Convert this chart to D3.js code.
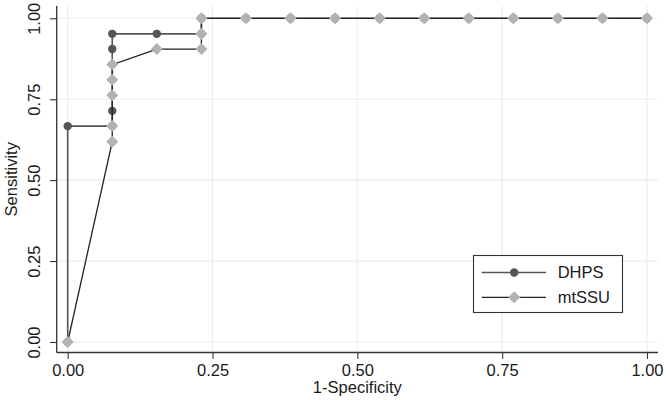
<!DOCTYPE html>
<html>
<head>
<meta charset="utf-8">
<script src="https://cdn.jsdelivr.net/npm/d3@7"></script>
<style>
  html, body { margin: 0; padding: 0; background: #fff; }
  svg { display: block; font-family: "Liberation Sans", Arial, sans-serif; }
</style>
</head>
<body>
<svg id="chart" width="666" height="400"></svg>
<script>
// ---- Data ----
const seriesNames = ["DHPS", "mtSSU"];
const dhpsFpr = [0, 0, 0.0769, 0.0769, 0.0769, 0.0769, 0.1538, 0.2308, 0.2308, 0.3077, 0.3846, 0.4615, 0.5385, 0.6154, 0.6923, 0.7692, 0.8462, 0.9231, 1.0];
const dhpsTpr = [0, 0.667, 0.667, 0.714, 0.905, 0.952, 0.952, 0.952, 1.0, 1.0, 1.0, 1.0, 1.0, 1.0, 1.0, 1.0, 1.0, 1.0, 1.0];
const mtssuFpr = [0, 0.0769, 0.0769, 0.0769, 0.0769, 0.0769, 0.1538, 0.2308, 0.2308, 0.2308, 0.3077, 0.3846, 0.4615, 0.5385, 0.6154, 0.6923, 0.7692, 0.8462, 0.9231, 1.0];
const mtssuTpr = [0, 0.619, 0.667, 0.762, 0.810, 0.857, 0.905, 0.905, 0.952, 1.0, 1.0, 1.0, 1.0, 1.0, 1.0, 1.0, 1.0, 1.0, 1.0, 1.0];
const xTicks = [0, 0.25, 0.5, 0.75, 1.0];
const yTicks = [0, 0.25, 0.5, 0.75, 1.0];
const xTitle = "1-Specificity";
const yTitle = "Sensitivity";

// ---- Layout ----
const svg = d3.select("#chart");
const panel = { left: 56.7, right: 658, top: 6, bottom: 352.5 };
const x = d3.scaleLinear().domain([0, 1]).range([67.7, 647]);
const y = d3.scaleLinear().domain([0, 1]).range([342, 18.3]);
const fontSize = 16.5;
const textColor = "#1a1a1a";
const axisColor = "#333";
const gridColor = "#ebebeb";

// Grid
const g = svg.append("g");
g.selectAll("line.gx").data(xTicks).enter().append("line")
  .attr("x1", d => x(d)).attr("x2", d => x(d))
  .attr("y1", panel.top).attr("y2", panel.bottom)
  .attr("stroke", gridColor).attr("stroke-width", 1.1);
g.selectAll("line.gy").data(yTicks).enter().append("line")
  .attr("y1", d => y(d)).attr("y2", d => y(d))
  .attr("x1", panel.left).attr("x2", panel.right)
  .attr("stroke", gridColor).attr("stroke-width", 1.1);

// Axes
const xAxis = d3.axisBottom(x).tickValues(xTicks).tickFormat(d3.format(".2f")).tickSize(6.5).tickPadding(4);
const xg = svg.append("g").attr("transform", `translate(0,${panel.bottom})`).call(xAxis);
xg.select(".domain").attr("d", `M${panel.left},0H${panel.right}`).attr("stroke", axisColor).attr("stroke-width", 1.3);
xg.selectAll(".tick line").attr("stroke", axisColor).attr("stroke-width", 1.1);
xg.selectAll(".tick text").attr("font-size", fontSize).attr("fill", textColor)
  .attr("font-family", "Liberation Sans, Arial, sans-serif").attr("dy", null).attr("y", 23);

const yAxis = d3.axisLeft(y).tickValues(yTicks).tickFormat(d3.format(".2f")).tickSize(6.7).tickPadding(4);
const yg = svg.append("g").attr("transform", `translate(${panel.left},0)`).call(yAxis);
yg.select(".domain").attr("d", `M0,${panel.top}V${panel.bottom}`).attr("stroke", axisColor).attr("stroke-width", 1.3);
yg.selectAll(".tick line").attr("stroke", axisColor).attr("stroke-width", 1.1);
yg.selectAll(".tick text")
  .attr("font-size", fontSize).attr("fill", textColor)
  .attr("font-family", "Liberation Sans, Arial, sans-serif")
  .attr("x", null).attr("dy", null)
  .attr("text-anchor", "middle")
  .attr("transform", "translate(-16.5,0) rotate(-90)");

// Axis titles
svg.append("text").attr("x", (panel.left + panel.right) / 2).attr("y", 392.5)
  .attr("text-anchor", "middle").attr("font-size", fontSize).attr("fill", textColor).text(xTitle);
svg.append("text").attr("transform", `translate(16.5,${(panel.top + panel.bottom) / 2}) rotate(-90)`)
  .attr("text-anchor", "middle").attr("font-size", fontSize).attr("fill", textColor).text(yTitle);

// Series
const dhps = dhpsFpr.map((d, i) => [d, dhpsTpr[i]]);
const mtssu = mtssuFpr.map((d, i) => [d, mtssuTpr[i]]);
const line = d3.line().x(d => x(d[0])).y(d => y(d[1]));
const dhpsLine = "#555555", dhpsFill = "#555555";
const mtLine = "#222222", mtFill = "#b2b2b2";
const diamond = d3.symbol().type(d3.symbolDiamond2 || d3.symbolSquare).size(60);
const diamondPath = "M0,-6L6,0L0,6L-6,0Z";

svg.append("path").datum(dhps).attr("d", line).attr("fill", "none")
  .attr("stroke", dhpsLine).attr("stroke-width", 1.6);
svg.selectAll("circle.dh").data(dhps).enter().append("circle")
  .attr("cx", d => x(d[0])).attr("cy", d => y(d[1])).attr("r", 4.2).attr("fill", dhpsFill);

svg.append("path").datum(mtssu).attr("d", line).attr("fill", "none")
  .attr("stroke", mtLine).attr("stroke-width", 1.3);
svg.selectAll("path.mt").data(mtssu).enter().append("path")
  .attr("d", diamondPath)
  .attr("transform", d => `translate(${x(d[0])},${y(d[1])})`)
  .attr("fill", mtFill);

// Legend
const lg = svg.append("g");
lg.append("rect").attr("x", 473.5).attr("y", 255.5).attr("width", 149).attr("height", 57)
  .attr("fill", "#fff").attr("stroke", "#333").attr("stroke-width", 1.1);
const legendRows = [
  { name: seriesNames[0], y: 272.5, stroke: dhpsLine, shape: "circle", fill: dhpsFill },
  { name: seriesNames[1], y: 297.3, stroke: mtLine, shape: "diamond", fill: mtFill }
];
legendRows.forEach(r => {
  lg.append("line").attr("x1", 481.7).attr("x2", 546).attr("y1", r.y).attr("y2", r.y)
    .attr("stroke", r.stroke).attr("stroke-width", r.shape === "circle" ? 1.6 : 1.3);
  if (r.shape === "circle") {
    lg.append("circle").attr("cx", 514.2).attr("cy", r.y).attr("r", 4.2).attr("fill", r.fill);
  } else {
    lg.append("path").attr("d", diamondPath).attr("transform", `translate(514.2,${r.y})`).attr("fill", r.fill);
  }
  lg.append("text").attr("x", 557.7).attr("y", r.y).attr("dy", "0.36em")
    .attr("font-size", fontSize).attr("fill", textColor).text(r.name);
});
</script>
</body>
</html>
